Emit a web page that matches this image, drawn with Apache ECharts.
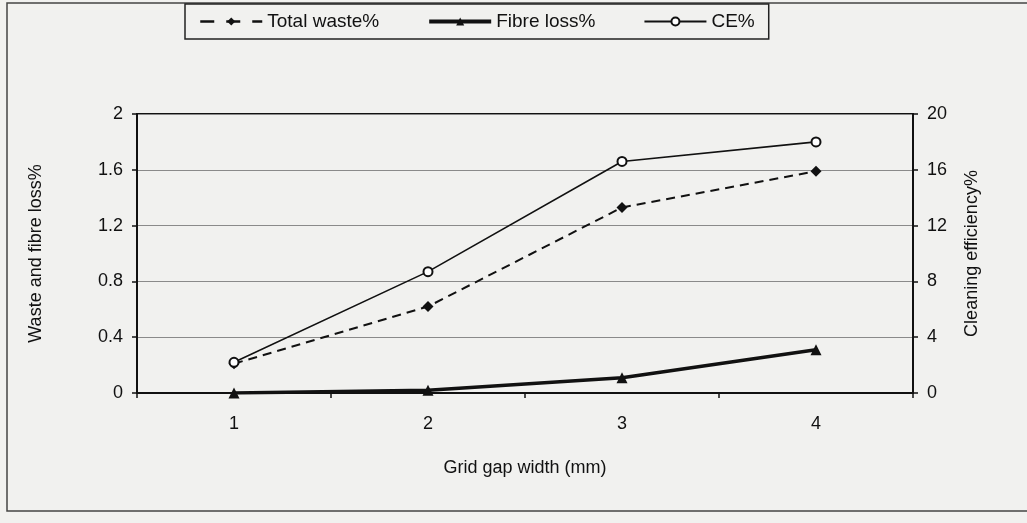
<!DOCTYPE html>
<html>
<head>
<meta charset="utf-8">
<title>Grid gap width</title>
<script src="https://cdn.jsdelivr.net/npm/echarts@6/dist/echarts.min.js"></script>
<style>
html,body{margin:0;padding:0;background:#f1f1ef;}
#chart{width:1027px;height:523px;}
</style>
</head>
<body>
<div id="chart"></div>
<script>
// values
var gapWidth = ['1', '2', '3', '4'];
var totalWaste = [0.21, 0.62, 1.33, 1.59];
var fibreLoss = [0.0, 0.02, 0.11, 0.31];
var cleaningEff = [2.2, 8.7, 16.6, 18.0];

var ink = '#111';
var font = 'Liberation Sans, Arial, sans-serif';

var myChart = echarts.init(document.getElementById('chart'));

var option = {
    animation: false,
    backgroundColor: '#f1f1ef',
    textStyle: { fontFamily: font, color: ink },
    graphic: [
        {
            type: 'rect',
            shape: { x: 7, y: 3, width: 1040, height: 508 },
            style: { fill: 'none', stroke: '#444', lineWidth: 1.5 }
        }
    ],
    legend: {
        left: 185,
        top: 4,
        padding: [8, 14],
        itemGap: 48,
        itemWidth: 62,
        itemHeight: 10,
        borderColor: '#222',
        borderWidth: 1.5,
        textStyle: { fontSize: 19, color: ink, fontFamily: font },
        data: [
            { name: 'Total waste%', lineStyle: { type: [14, 12], width: 2.5 } },
            { name: 'Fibre loss%', lineStyle: { width: 4 } },
            'CE%'
        ]
    },
    grid: {
        left: 137,
        right: 114,
        top: 114,
        bottom: 130,
        show: true,
        borderColor: ink,
        borderWidth: 2,
        backgroundColor: 'transparent'
    },
    xAxis: {
        type: 'category',
        data: gapWidth,
        boundaryGap: true,
        name: 'Grid gap width (mm)',
        nameLocation: 'middle',
        nameGap: 66,
        nameTextStyle: { fontSize: 18, color: ink },
        axisLine: { lineStyle: { color: ink, width: 2 } },
        axisTick: { show: true, length: 5, lineStyle: { color: ink, width: 1.5 } },
        axisLabel: { fontSize: 18, color: ink, margin: 22 }
    },
    yAxis: [
        {
            type: 'value',
            min: 0,
            max: 2,
            interval: 0.4,
            position: 'left',
            name: 'Waste and fibre loss%',
            nameLocation: 'middle',
            nameGap: 92,
            nameTextStyle: { fontSize: 18, color: ink },
            axisLine: { show: true, lineStyle: { color: ink, width: 2 } },
            axisTick: { show: true, length: 5, lineStyle: { color: ink, width: 1.5 } },
            axisLabel: { fontSize: 18, color: ink, margin: 14 },
            splitLine: { show: true, lineStyle: { color: '#8a8a8a', width: 1.2 } }
        },
        {
            type: 'value',
            min: 0,
            max: 20,
            interval: 4,
            position: 'right',
            name: 'Cleaning efficiency%',
            nameLocation: 'middle',
            nameGap: 50,
            nameRotate: 90,
            nameTextStyle: { fontSize: 18, color: ink },
            axisLine: { show: true, lineStyle: { color: ink, width: 2 } },
            axisTick: { show: true, length: 5, lineStyle: { color: ink, width: 1.5 } },
            axisLabel: { fontSize: 18, color: ink, margin: 14 },
            splitLine: { show: false }
        }
    ],
    series: [
        {
            name: 'Total waste%',
            type: 'line',
            yAxisIndex: 0,
            symbol: 'diamond',
            symbolSize: 11,
            lineStyle: { color: ink, width: 2, type: [9, 6] },
            itemStyle: { color: ink },
            data: totalWaste
        },
        {
            name: 'Fibre loss%',
            type: 'line',
            yAxisIndex: 0,
            symbol: 'triangle',
            symbolSize: 11,
            lineStyle: { color: ink, width: 3.5 },
            itemStyle: { color: ink },
            data: fibreLoss
        },
        {
            name: 'CE%',
            type: 'line',
            yAxisIndex: 1,
            symbol: 'emptyCircle',
            symbolSize: 9,
            lineStyle: { color: ink, width: 1.6 },
            itemStyle: { color: ink, borderWidth: 2 },
            data: cleaningEff
        }
    ]
};

myChart.setOption(option);
</script>
</body>
</html>
